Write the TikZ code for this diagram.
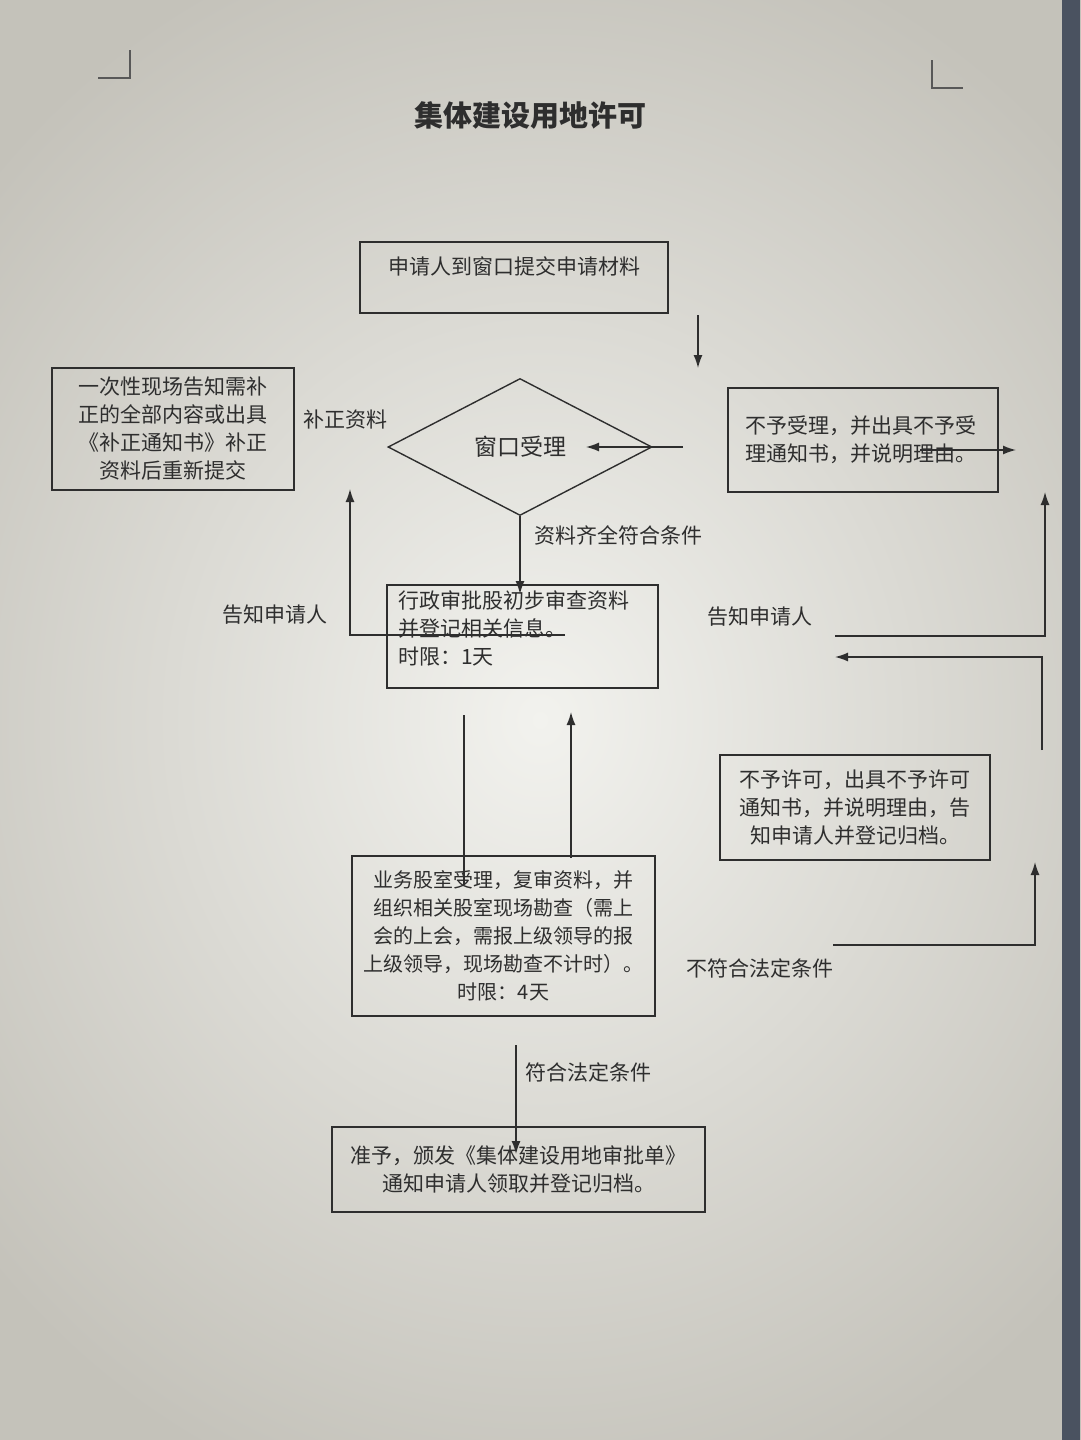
\documentclass[tikz,border=0pt]{standalone}
\usepackage{fontspec}
\setmainfont{Noto Sans CJK SC}
\usetikzlibrary{shapes.geometric,arrows.meta}
\definecolor{ink}{HTML}{2E2E2E}
\definecolor{bgin}{HTML}{F2F2EE}
\definecolor{bgout}{HTML}{C4C2BA}
\definecolor{edge}{HTML}{4A5260}
\tikzset{
  box/.style={draw=ink, line width=1.4pt, inner sep=0pt, text=ink, align=center},
  lbl/.style={text=ink, inner sep=0pt},
  ln/.style={draw=ink, line width=1.4pt},
  arr/.style={draw=ink, line width=1.4pt, -{Latex[length=13pt,width=9pt]}},
  cornermark/.style={draw=ink!80, line width=1.2pt}
}
\begin{document}
\begin{tikzpicture}[x=1pt,y=-1pt,font=\fontsize{21}{28}\selectfont]
\useasboundingbox (0,0) rectangle (1080,1440);
\shade[inner color=bgin, outer color=bgout] (-200,-100) rectangle (1280,1540);
\fill[edge] (1062,0) rectangle (1080,1440);
% corner marks
\draw[cornermark] (130,50) -- (130,78) -- (98,78);
\draw[cornermark] (932,60) -- (932,88) -- (963,88);
% title
\node[lbl, font=\fontsize{29}{32}\selectfont\bfseries] (title) at (530,115) {集体建设用地许可};
% boxes
\node[box, minimum width=308pt, minimum height=71pt] (b1) at (514,277.5) {\raisebox{24pt}{申请人到窗口提交申请材料}};
\node[draw=ink, line width=1.4pt, diamond, inner sep=0pt, minimum width=264pt, minimum height=137pt, text=ink, font=\fontsize{23}{28}\selectfont] (dia) at (520,447) {窗口受理};
\node[box, minimum width=242pt, minimum height=122pt] (bl) at (173,429) {一次性现场告知需补\\正的全部内容或出具\\《补正通知书》补正\\资料后重新提交};
\node[box, minimum width=270pt, minimum height=104pt] (br) at (863,440) {\raisebox{3pt}{\parbox{236pt}{\raggedright 不予受理，并出具不予受\\理通知书，并说明理由。}}};
\node[box, minimum width=271pt, minimum height=103pt] (b2) at (522.5,636.5) {};
\node[lbl, anchor=north west, align=left] (t2) at (398,591) {行政审批股初步审查资料\\并登记相关信息。\\时限：1天};
\node[box, minimum width=303pt, minimum height=160pt, font=\fontsize{20}{28}\selectfont] (b3) at (503.5,936) {业务股室受理，复审资料，并\\组织相关股室现场勘查（需上\\会的上会，需报上级领导的报\\上级领导，现场勘查不计时）。\\时限：4天};
\node[box, minimum width=270pt, minimum height=105pt] (b4) at (855,807.5) {不予许可，出具不予许可\\通知书，并说明理由，告\\知申请人并登记归档。};
\node[box, minimum width=373pt, minimum height=85pt] (b5) at (518.5,1169.5) {准予，颁发《集体建设用地审批单》\\通知申请人领取并登记归档。};
% labels
\node[lbl] (l1) at (345,420) {补正资料};
\node[lbl] (l2) at (618,535) {资料齐全符合条件};
\node[lbl] (l3) at (275,615) {告知申请人};
\node[lbl] (l4) at (760,617) {告知申请人};
\node[lbl] (l5) at (760,968) {不符合法定条件};
\node[lbl] (l6) at (588,1072) {符合法定条件};
% coordinates
\coordinate (a1s) at (698,315);
\coordinate (a1e) at (698,368);
\coordinate (a2s) at (683,447);
\coordinate (a2e) at (586,447);
\coordinate (a3s) at (920,450);
\coordinate (a3e) at (1016,450);
\coordinate (a4e) at (520,594);
\coordinate (a5a) at (565,635);
\coordinate (a5b) at (350,635);
\coordinate (a5c) at (350,489);
\coordinate (a6s) at (464,715);
\coordinate (a6e) at (464,885);
\coordinate (a7s) at (571,858);
\coordinate (a7e) at (571,712);
\coordinate (a8s) at (835,636);
\coordinate (a8b) at (1045,636);
\coordinate (a8e) at (1045,492);
\coordinate (a9s) at (1042,750);
\coordinate (a9b) at (1042,657);
\coordinate (a9e) at (835,657);
\coordinate (a10s) at (833,945);
\coordinate (a10b) at (1035,945);
\coordinate (a10e) at (1035,862);
\coordinate (a11s) at (516,1045);
\coordinate (a11e) at (516,1154);
% connectors
\draw[arr] (a1s) -- (a1e);
\draw[arr] (a2s) -- (a2e);
\draw[arr] (a3s) -- (a3e);
\draw[arr] (dia.south) -- (a4e);
\draw[arr] (a5a) -- (a5b) -- (a5c);
\draw[ln] (a6s) -- (a6e);
\draw[arr] (a7s) -- (a7e);
\draw[arr] (a8s) -- (a8b) -- (a8e);
\draw[arr] (a9s) -- (a9b) -- (a9e);
\draw[arr] (a10s) -- (a10b) -- (a10e);
\draw[arr] (a11s) -- (a11e);
\end{tikzpicture}
\end{document}
